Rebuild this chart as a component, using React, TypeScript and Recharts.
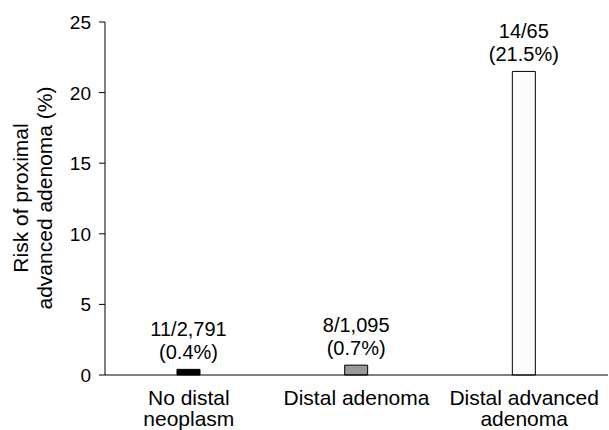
import { Bar, BarChart, Cell, LabelList, XAxis, YAxis } from "recharts"

const categories = ["No distal neoplasm", "Distal adenoma", "Distal advanced adenoma"]
const categoryLines = [["No distal", "neoplasm"], ["Distal adenoma"], ["Distal advanced", "adenoma"]]
const risk = [0.4, 0.7, 21.5]
const counts = ["11/2,791", "8/1,095", "14/65"]
const yTicks = [0, 5, 10, 15, 20, 25]
const edgeTicks = [0, 1, 2, 3]

const fills = ["#000000", "#999999", "#fbfbfb"]
const font = "'Liberation Sans', Arial, sans-serif"

const data = categories.map((name, i) => ({
  name,
  risk: risk[i],
  count: counts[i],
}))

function CategoryTick(props: any) {
  const { x, y, index } = props
  const lines = categoryLines[index] || []
  return (
    <text x={x} y={y + 29} textAnchor="middle" fontSize={21} fontFamily={font} fill="#000">
      {lines.map((l, i) => (
        <tspan key={i} x={x} dy={i === 0 ? 0 : 21}>
          {l}
        </tspan>
      ))}
    </text>
  )
}

function YTick(props: any) {
  const { x, y, payload } = props
  return (
    <text x={x} y={y} dx={-6} dy={7} textAnchor="end" fontSize={19} fontFamily={font} fill="#000">
      {payload.value}
    </text>
  )
}

function ValueLabel(props: any) {
  const { x, y, width, index } = props
  const cx = x + width / 2
  return (
    <text x={cx} y={y - 33} textAnchor="middle" fontSize={20} fontFamily={font} fill="#000">
      <tspan x={cx} dy={0}>{counts[index]}</tspan>
      <tspan x={cx} dy={23}>({risk[index]}%)</tspan>
    </text>
  )
}

function YLabel() {
  const cy = 198
  return (
    <g>
      <text
        x={28}
        y={cy}
        transform={`rotate(-90, 28, ${cy})`}
        textAnchor="middle"
        fontSize={21}
        fontFamily={font}
        fill="#000"
      >
        Risk of proximal
      </text>
      <text
        x={52}
        y={cy}
        transform={`rotate(-90, 52, ${cy})`}
        textAnchor="middle"
        fontSize={21}
        fontFamily={font}
        fill="#000"
      >
        advanced adenoma (%)
      </text>
    </g>
  )
}

export default function App() {
  return (
    <div style={{ position: "absolute", left: 0, top: 0, background: "#fff" }}>
      <BarChart
        width={609}
        height={430}
        data={data}
        margin={{ top: 22, right: 1, bottom: 0, left: 0 }}
      >
        <XAxis
          xAxisId="axis"
          type="number"
          domain={[0, 3]}
          ticks={edgeTicks}
          tick={false}
          tickSize={8}
          height={1}
          stroke="#000"
        />
        <XAxis
          xAxisId="names"
          dataKey="name"
          height={54}
          axisLine={false}
          tickLine={false}
          tickSize={0}
          tickMargin={0}
          interval={0}
          tick={<CategoryTick />}
        />
        <YAxis width={105} domain={[0, 25]} ticks={yTicks} stroke="#000" tick={<YTick />} />
        <Bar
          xAxisId="names"
          dataKey="risk"
          barSize={23}
          stroke="#000"
          strokeWidth={1}
          isAnimationActive={false}
        >
          {data.map((d, i) => (
            <Cell key={d.name} fill={fills[i]} />
          ))}
          <LabelList dataKey="risk" content={<ValueLabel />} />
        </Bar>
        <YLabel />
      </BarChart>
    </div>
  )
}
